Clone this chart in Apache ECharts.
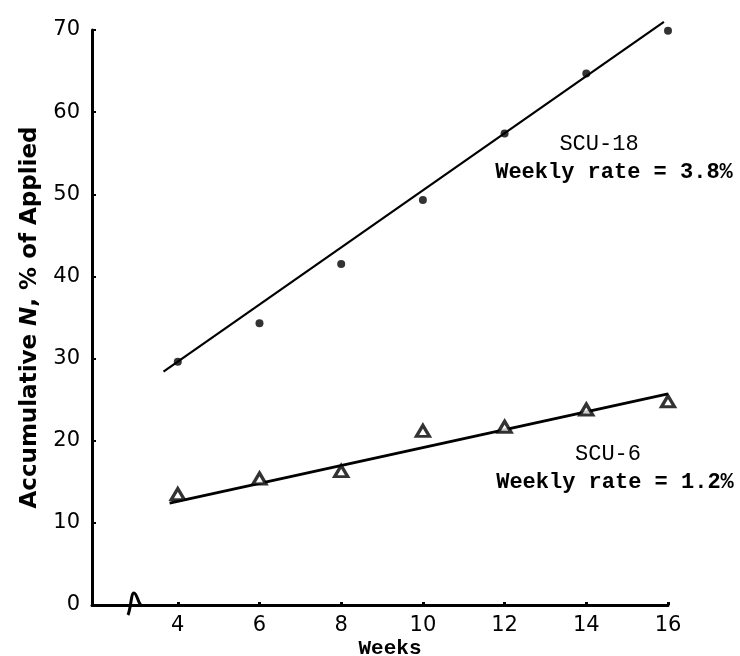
<!DOCTYPE html>
<html>
<head>
<meta charset="utf-8">
<script src="https://cdn.jsdelivr.net/npm/echarts@6/dist/echarts.min.js"></script>
<style>
  html, body { margin: 0; padding: 0; background: #fff; }
  #chart { width: 740px; height: 656px; }
</style>
</head>
<body>
<div id="chart"></div>
<script>
// ---- data ----
var weeks = [4, 6, 8, 10, 12, 14, 16];
var scu18Values = [29.6, 34.3, 41.5, 49.3, 57.4, 64.7, 69.9];
var scu6Values = [13.5, 15.4, 16.3, 21.2, 21.7, 23.8, 24.8];
var scu18FitWeeks = [3.65, 15.9];
var scu18FitValues = [28.4, 71.0];
var scu6FitWeeks = [3.8, 16.0];
var scu6FitValues = [12.4, 25.7];
var xTickLabels = [4, 6, 8, 10, 12, 14, 16];
var breakWeek = 3.0;

function pairs(xs, ys) { return xs.map(function (x, i) { return [x, ys[i]]; }); }

var ink = '#000';
var chart = echarts.init(document.getElementById('chart'), null, { renderer: 'canvas' });

var option = {
  backgroundColor: '#fff',
  animation: false,
  grid: { left: 92, right: 72, top: 30, bottom: 51, containLabel: false, outerBoundsMode: 'none' },
  xAxis: {
    type: 'value',
    min: 1.9,
    max: 16,
    splitLine: { show: false },
    axisLine: { show: true, lineStyle: { color: ink, width: 3 } },
    axisTick: { show: true, inside: true, length: 3, lineStyle: { color: ink, width: 3 }, customValues: xTickLabels },
    axisLabel: {
      customValues: xTickLabels,
      color: ink, fontFamily: 'DejaVu Sans', fontSize: 21, margin: 10
    },
    name: 'Weeks',
    nameLocation: 'middle',
    nameGap: 33,
    nameMoveOverlap: false,
    nameTextStyle: { fontFamily: 'Liberation Mono', fontWeight: 'bold', fontSize: 21, color: ink, padding: [0, 0, 0, 20] }
  },
  yAxis: {
    type: 'value',
    min: 0,
    max: 70,
    interval: 10,
    splitLine: { show: false },
    axisLine: { show: true, lineStyle: { color: ink, width: 3 } },
    axisTick: { show: true, inside: true, length: 4, lineStyle: { color: ink, width: 2 } },
    axisLabel: {
      color: ink, fontFamily: 'DejaVu Sans', fontSize: 21, margin: 12,
      padding: [0, 0, 14, 0]
    },
    name: '{a|Accumulative }{i|N}{a|, % of Applied}',
    nameLocation: 'middle',
    nameRotate: 90,
    nameGap: 50,
    nameMoveOverlap: false,
    nameTextStyle: {
      rich: {
        a: { fontFamily: 'DejaVu Sans', fontWeight: 'bold', fontSize: 23, color: ink },
        i: { fontFamily: 'DejaVu Sans', fontWeight: 'bold', fontStyle: 'italic', fontSize: 23, color: ink }
      }
    }
  },
  series: [
    {
      name: 'SCU-18 fit', type: 'line', data: pairs(scu18FitWeeks, scu18FitValues),
      showSymbol: false, symbol: 'none', clip: false,
      lineStyle: { color: ink, width: 2.2 }, z: 2
    },
    {
      name: 'SCU-6 fit', type: 'line', data: pairs(scu6FitWeeks, scu6FitValues),
      showSymbol: false, symbol: 'none', clip: false,
      lineStyle: { color: ink, width: 3 }, z: 2
    },
    {
      name: 'SCU-18', type: 'scatter', data: pairs(weeks, scu18Values),
      symbol: 'circle', symbolSize: 8,
      itemStyle: { color: ink }, z: 3
    },
    {
      name: 'SCU-6', type: 'scatter', data: pairs(weeks, scu6Values),
      symbol: 'triangle', symbolSize: [13, 11],
      itemStyle: { color: '#fff', borderColor: ink, borderWidth: 3.2 }, z: 3
    },
    {
      name: 'axis break', type: 'custom', data: [[breakWeek, 0]], clip: false, z: 5,
      renderItem: function (params, api) {
        var p = api.coord([api.value(0), api.value(1)]);
        var x = p[0], y = p[1];
        return {
          type: 'path',
          shape: {
            pathData: 'M' + (x - 9) + ' ' + (y + 10) +
              ' C' + (x - 6) + ' ' + (y + 4) + ' ' + (x - 6) + ' ' + (y - 12) + ' ' + (x - 3) + ' ' + (y - 12) +
              ' C' + (x) + ' ' + (y - 12) + ' ' + (x + 1) + ' ' + (y - 2) + ' ' + (x + 4) + ' ' + (y)
          },
          style: { fill: 'none', stroke: ink, lineWidth: 3 }
        };
      }
    }
  ],
  graphic: [
    { type: 'text', x: 599, y: 144, style: { text: 'SCU-18', font: '22px "Liberation Mono"', fill: ink, align: 'center', verticalAlign: 'middle' } },
    { type: 'text', x: 614, y: 172, style: { text: 'Weekly rate = 3.8%', font: 'bold 22px "Liberation Mono"', fill: ink, align: 'center', verticalAlign: 'middle' } },
    { type: 'text', x: 608, y: 454, style: { text: 'SCU-6', font: '22px "Liberation Mono"', fill: ink, align: 'center', verticalAlign: 'middle' } },
    { type: 'text', x: 615, y: 482, style: { text: 'Weekly rate = 1.2%', font: 'bold 22px "Liberation Mono"', fill: ink, align: 'center', verticalAlign: 'middle' } }
  ]
};
chart.setOption(option);
</script>
</body>
</html>
